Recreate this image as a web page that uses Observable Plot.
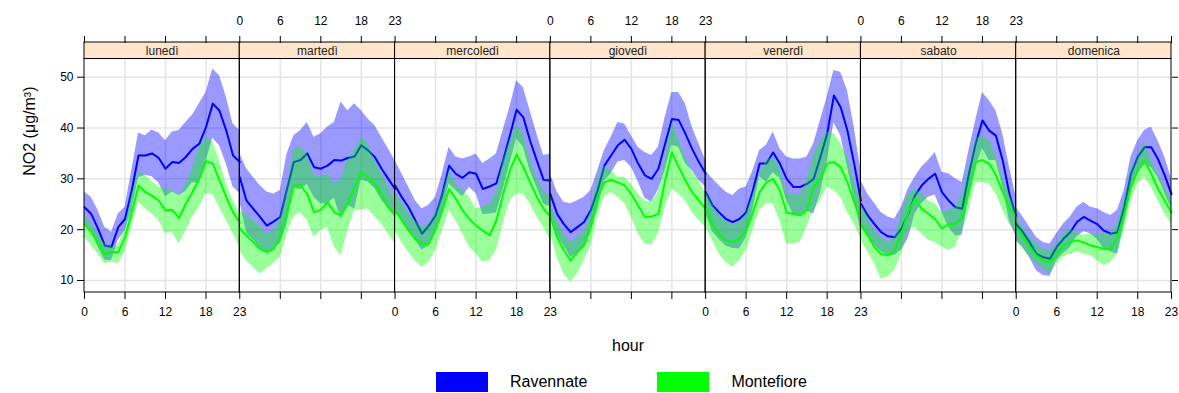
<!DOCTYPE html>
<html><head><meta charset="utf-8">
<script src="https://cdn.jsdelivr.net/npm/d3@7"></script>
<script src="https://cdn.jsdelivr.net/npm/@observablehq/plot@0.6"></script>
<style>
body{margin:0;background:#fff;font-family:"Liberation Sans",Arial,sans-serif;}
#legend > div{padding-left:436px;margin:0 !important;font-size:16px !important;font-family:"Liberation Sans",Arial,sans-serif !important;color:#000;}
#legend span{margin-right:70px !important;}
#legend span svg{margin-right:22px !important;}
</style></head><body><div id="chart"></div><div id="legend"></div>
<script>
const days = ["lunedì","martedì","mercoledì","giovedì","venerdì","sabato","domenica"];
const hours = [0,1,2,3,4,5,6,7,8,9,10,11,12,13,14,15,16,17,18,19,20,21,22,23];
const hourTicks = [0,6,12,18,23];
const gridHours = [6,12,18];
const yTicks = [10,20,30,40,50];
const series = ["Ravennate","Montefiore"];
const colors = ["#0000FF","#00FF00"];

const ravMean = [
[24.4,23.1,20.2,16.9,16.6,20.5,22.1,27.7,34.6,34.6,35.0,34.1,32.0,33.3,33.1,34.3,35.9,36.9,40.2,44.8,43.4,39.5,34.6,33.3],
[30.3,25.7,24.1,22.5,20.8,21.6,22.5,28.0,33.3,33.7,35.0,32.3,32.0,32.6,33.7,33.6,34.1,34.4,36.6,35.6,34.3,32.0,30.0,28.0],
[28.7,26.4,24.4,21.8,19.2,20.8,22.8,27.0,32.6,31.0,30.2,31.3,31.0,28.0,28.5,29.1,33.6,38.5,43.6,42.1,37.5,33.6,29.8,29.7],
[27.0,23.1,21.1,19.5,20.5,21.5,23.8,27.7,32.6,34.6,36.6,37.7,35.9,33.0,30.7,30.0,32.0,36.9,41.8,41.6,38.9,35.9,33.3,31.0],
[27.4,24.8,23.4,22.1,21.5,22.1,23.4,27.7,33.0,33.0,35.2,33.0,30.0,28.4,28.4,29.0,30.0,34.3,38.9,46.4,44.1,39.5,33.0,25.7],
[25.1,22.8,21.1,19.5,18.7,18.5,20.2,23.1,26.7,28.7,30.0,31.0,27.4,25.7,24.4,24.1,31.0,36.9,41.5,39.5,38.5,33.6,27.0,22.5],
[21.1,19.5,17.5,15.2,14.6,14.3,16.6,18.2,19.5,21.5,22.5,21.8,21.1,19.8,19.2,19.5,24.4,31.0,34.3,36.2,36.2,33.9,30.7,27.0]
];
const ravUpper = [
[27.4,26.4,23.8,20.5,19.5,23.1,24.4,31.6,39.0,38.5,39.6,39.0,37.5,39.2,39.5,41.1,42.5,44.8,47.0,51.6,50.3,46.1,40.8,39.5],
[35.0,32.0,30.3,28.7,27.4,27.0,27.7,34.9,38.5,39.5,41.1,38.2,38.9,40.2,41.1,45.1,43.4,44.8,43.4,41.8,40.5,38.2,35.9,33.6],
[33.6,31.0,28.4,25.7,24.1,24.8,26.4,31.0,36.2,34.3,33.9,34.3,34.9,33.0,33.9,34.9,39.5,44.1,49.3,48.0,43.4,38.9,34.6,34.9],
[31.0,27.4,25.4,25.1,25.7,26.4,27.7,31.6,35.6,38.2,41.1,40.8,38.5,36.2,35.2,34.6,36.2,42.1,47.0,47.0,44.8,40.2,36.9,33.6],
[31.6,30.0,28.7,27.4,26.7,28.0,28.4,31.6,35.6,36.6,39.2,35.9,34.3,33.9,33.9,34.3,36.9,41.5,46.1,51.3,51.0,47.4,40.2,31.6],
[29.7,27.0,25.2,23.4,22.5,22.1,24.4,28.0,30.3,32.3,33.6,35.2,31.3,31.0,30.0,29.3,35.6,41.5,47.0,45.4,43.4,38.9,32.3,26.4],
[24.4,22.5,20.5,18.5,17.5,17.2,19.2,21.1,22.5,24.4,25.4,24.4,24.1,23.4,22.8,23.8,27.7,34.3,37.5,39.5,40.2,37.5,34.3,30.0]
];
const ravLower = [
[21.4,19.8,16.6,14.0,13.9,17.9,19.8,23.8,30.2,30.7,30.4,29.2,26.5,27.4,26.7,27.5,29.3,29.0,33.4,38.0,36.5,32.9,28.4,27.1],
[25.6,19.4,17.9,16.3,15.5,16.2,17.3,21.1,28.1,27.9,28.9,26.4,25.1,25.0,26.3,22.1,24.8,24.0,29.8,29.4,28.1,25.8,24.1,22.4],
[23.8,21.8,19.8,17.9,16.0,16.8,19.2,23.0,29.0,27.7,26.5,28.3,27.1,23.0,23.1,23.3,27.7,32.9,37.9,36.2,31.6,28.3,25.0,24.5],
[23.0,18.8,16.8,14.5,15.3,16.6,19.9,23.8,29.6,31.0,33.3,33.6,32.3,29.5,26.2,25.4,27.8,31.7,36.6,36.2,33.0,31.6,29.7,28.4],
[23.2,19.6,18.1,16.8,16.3,16.2,18.4,23.8,30.4,29.4,31.2,30.1,25.7,22.9,22.9,23.7,23.1,27.1,33.5,41.0,38.5,32.5,25.8,19.8],
[20.5,18.6,17.0,15.6,14.9,14.9,16.0,18.2,23.1,25.1,26.4,26.8,23.5,20.4,18.8,18.9,26.4,32.3,36.0,33.6,33.6,28.3,21.7,18.6],
[17.8,16.5,14.5,11.9,11.0,10.8,14.0,15.3,16.5,18.6,19.6,19.2,18.1,16.2,15.6,15.2,21.1,27.7,31.1,32.9,32.2,30.3,27.1,24.0]
];
const monMean = [
[21.1,19.5,17.5,15.2,15.6,15.6,18.5,23.4,28.7,27.4,26.7,25.7,23.8,23.9,22.3,25.1,27.4,30.0,33.5,33.0,29.7,26.4,23.4,21.4],
[20.2,18.9,17.5,16.2,15.6,16.2,18.5,23.1,28.7,28.7,27.0,23.4,23.9,25.4,23.4,22.8,25.1,28.4,31.3,30.3,29.0,27.0,24.4,23.1],
[23.8,21.8,19.8,18.2,17.2,17.2,20.2,23.8,28.0,26.1,23.8,22.1,20.8,19.8,18.9,21.8,27.0,31.6,34.8,32.3,29.3,26.4,24.1,22.6],
[22.5,18.5,15.9,13.9,15.6,16.9,20.5,26.4,29.3,29.8,29.3,28.7,27.0,24.7,22.5,22.6,23.1,29.7,35.2,32.3,29.7,27.4,25.7,24.1],
[24.4,21.1,19.2,17.9,17.5,18.2,19.8,23.4,27.4,29.3,30.0,27.7,23.4,23.1,22.8,23.8,28.4,30.0,33.0,33.3,32.3,29.3,25.4,21.8],
[21.1,18.9,16.6,15.2,14.9,15.9,19.2,23.4,26.1,24.1,23.1,22.1,20.2,21.1,21.1,22.5,27.7,33.3,33.7,33.0,30.7,27.4,24.4,22.5],
[20.5,18.5,16.6,14.9,13.9,13.6,15.2,16.9,17.5,17.9,17.5,16.9,16.6,16.2,16.2,18.5,23.1,28.4,31.6,33.6,31.0,28.0,25.7,23.4]
];
const monUpper = [
[22.8,21.1,19.2,17.2,16.6,16.9,20.5,27.0,31.3,30.7,29.5,28.4,28.0,27.7,26.7,29.0,32.0,36.2,38.2,37.2,33.6,29.0,25.7,23.4],
[23.8,22.8,21.8,20.5,19.2,19.8,22.5,28.4,35.9,36.2,34.9,30.7,30.3,31.0,29.0,30.0,33.6,35.6,38.2,36.9,33.6,31.0,28.4,25.7],
[27.4,25.4,23.4,21.8,20.5,21.1,23.4,27.0,31.6,29.0,27.7,26.4,24.1,24.4,25.1,27.4,33.6,37.5,40.5,38.9,33.6,30.3,27.7,26.4],
[25.1,21.8,19.2,17.5,18.5,19.8,23.8,29.7,32.6,31.6,30.3,30.3,29.0,27.0,25.7,25.4,27.4,33.6,41.1,37.5,34.3,31.3,29.7,27.0],
[27.7,25.1,22.8,21.8,20.8,21.5,23.1,27.0,31.0,33.6,34.3,32.3,27.0,27.0,26.7,29.7,34.6,37.5,39.2,38.9,36.9,34.3,29.7,25.7],
[25.1,22.5,19.8,18.5,17.5,18.5,23.1,27.0,28.0,27.0,25.7,25.1,23.4,23.8,24.4,27.0,32.3,37.9,38.5,37.5,34.3,30.3,27.0,23.8],
[22.5,20.5,18.5,17.2,16.2,15.9,17.2,19.2,20.2,19.2,18.9,19.2,18.9,19.2,19.2,21.1,25.7,31.6,34.3,37.2,33.6,31.0,28.4,25.7]
];
const monLower = [
[18.5,16.9,15.2,13.3,13.6,13.3,15.6,20.5,25.4,24.1,23.1,21.8,19.2,19.5,17.2,19.8,22.5,24.4,27.0,27.0,24.4,21.8,19.2,16.6],
[15.9,13.9,12.6,11.3,12.3,13.3,14.6,19.2,22.5,23.4,21.8,18.5,19.8,20.5,16.6,14.9,19.8,23.8,23.8,24.1,22.5,21.1,19.2,17.2],
[19.8,17.5,15.6,13.9,12.6,13.6,15.9,19.8,23.8,21.8,19.2,16.6,15.2,13.6,13.9,15.9,21.1,25.7,27.0,27.0,25.1,22.5,20.5,17.9],
[19.2,14.6,11.3,9.7,11.3,13.9,16.9,22.5,26.4,27.4,26.4,25.1,22.5,19.2,17.2,16.9,19.2,24.4,28.0,27.0,25.7,23.4,21.8,20.5],
[20.5,17.9,15.2,13.6,12.6,13.9,15.9,19.8,23.8,25.1,25.1,21.8,17.2,17.2,17.5,20.5,23.8,25.7,28.4,27.7,26.4,23.4,21.1,18.2],
[17.9,15.6,13.3,10.3,10.7,12.0,15.2,19.8,20.5,19.2,17.9,17.5,16.6,15.9,16.6,19.8,23.8,29.3,29.3,29.0,27.0,23.8,21.1,19.2],
[17.9,16.2,14.6,13.3,12.3,11.3,13.3,14.6,15.2,15.6,15.2,14.9,13.9,12.9,13.6,15.2,19.8,25.7,29.0,30.3,28.4,25.7,23.1,21.1]
];

// layout constants
const span = hours.length - 1;            // 23 hour steps per panel
const xMax = span * days.length;          // 161
const yMin = 7.64, panelTop = 53.58, stripTop = 56.83;

function table(mean, lower, upper, name) {
  const rows = [];
  days.forEach((day, di) => hours.forEach((h, hi) => rows.push({
    series: name, day, pos: di * span + h,
    mean: mean[di][hi], lower: lower[di][hi], upper: upper[di][hi]
  })));
  return rows;
}
const rav = table(ravMean, ravLower, ravUpper, series[0]);
const mon = table(monMean, monLower, monUpper, series[1]);

// ticks
const allTicks = [], bottomLab = new Map(), topLab = new Map(), vGrid = [];
days.forEach((d, di) => {
  hourTicks.forEach(h => {
    const p = di * span + h;
    allTicks.push(p);
    if (di % 2 === 0) bottomLab.set(p, String(h)); else topLab.set(p, String(h));
  });
  gridHours.forEach(h => vGrid.push(di * span + h));
});
const uniqTicks = Array.from(new Set(allTicks));

const font = "Liberation Sans, Arial, Helvetica, sans-serif";
const chart = Plot.plot({
  width: 1179, height: 365,
  marginLeft: 84, marginRight: 8, marginTop: 42, marginBottom: 73,
  style: {fontFamily: font, fontSize: "12px", color: "#000", background: "#fff"},
  x: {domain: [0, xMax]},
  y: {domain: [yMin, stripTop]},
  marks: [
    Plot.ruleY(yTicks, {x1: 0, x2: xMax, stroke: "#e4e4e4", strokeWidth: 1.5}),
    Plot.ruleX(vGrid, {y1: yMin, y2: panelTop, stroke: "#e4e4e4", strokeWidth: 1.5}),
    Plot.areaY(rav, {x: "pos", y1: "lower", y2: "upper", z: "day", fill: colors[0], fillOpacity: 0.4}),
    Plot.line(rav, {x: "pos", y: "mean", z: "day", stroke: colors[0], strokeWidth: 2}),
    Plot.areaY(mon, {x: "pos", y1: "lower", y2: "upper", z: "day", fill: colors[1], fillOpacity: 0.4}),
    Plot.line(mon, {x: "pos", y: "mean", z: "day", stroke: colors[1], strokeWidth: 2}),
    Plot.rect(days, {x1: (d, i) => i * span, x2: (d, i) => (i + 1) * span, y1: yMin, y2: panelTop, fill: "none", stroke: "#000"}),
    Plot.rect(days, {x1: (d, i) => i * span, x2: (d, i) => (i + 1) * span, y1: panelTop, y2: stripTop, fill: "#FFE5CC", stroke: "#000"}),
    Plot.text(days, {x: (d, i) => (i + 0.5) * span, y: (panelTop + stripTop) / 2, text: d => d, fontSize: 12, fill: "#222"}),
    Plot.axisX(uniqTicks, {anchor: "bottom", tickSize: 7, tickPadding: 8, label: null, tickFormat: p => bottomLab.get(p) ?? ""}),
    Plot.axisX(uniqTicks, {anchor: "top", tickSize: 7, tickPadding: 11, label: null, tickFormat: p => topLab.get(p) ?? ""}),
    Plot.axisY(yTicks, {anchor: "left", tickSize: 7, tickPadding: 4, label: null}),
    Plot.axisY(yTicks, {anchor: "right", tickSize: 6, label: null, tickFormat: () => ""}),
    Plot.text(["hour"], {x: [xMax / 2], frameAnchor: "bottom", dy: 58, fontSize: 16}),
    Plot.text(["NO2 (μg/m³)"], {y: [(yMin + panelTop) / 2], frameAnchor: "left", dx: -55, rotate: -90, fontSize: 16})
  ]
});
document.getElementById("chart").appendChild(chart);

const leg = Plot.legend({color: {type: "ordinal", domain: series, range: colors}, swatchWidth: 52, swatchHeight: 20});
document.getElementById("legend").appendChild(leg);
</script></body></html>
